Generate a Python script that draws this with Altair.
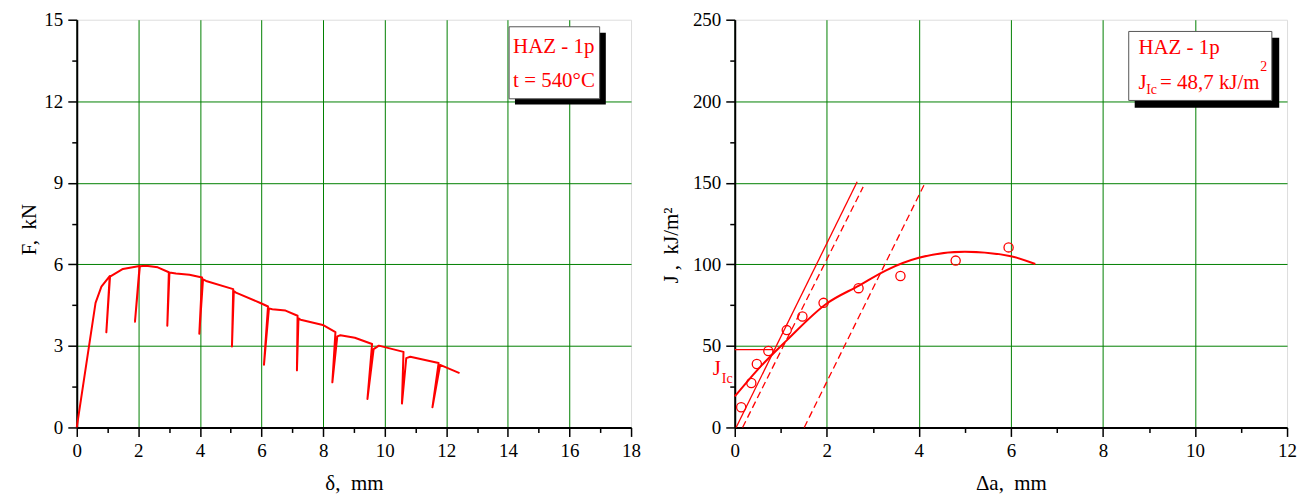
import altair as alt
import pandas as pd

FONT = "Liberation Serif"
RED = "#ff0000"
NB = "\u00a0"

# ---------------- Left panel: F vs delta record ----------------
delta_mm = [0, 0.61, 0.80, 1.07, 0.96, 1.08, 1.50, 2.04, 1.89, 2.05, 2.25, 2.63, 2.99, 2.94, 3.01,
            3.22, 3.66, 4.07, 3.98, 4.10, 4.20, 5.08, 5.04, 5.10, 5.17, 5.98, 6.21, 6.08, 6.24,
            6.35, 6.78, 7.17, 7.15, 7.20, 7.27, 7.99, 8.40, 8.30, 8.46, 8.56, 9.03, 9.59, 9.44,
            9.64, 9.81, 10.61, 10.56, 10.70, 10.83, 11.75, 11.55, 11.80, 12.43]
force_kN = [0, 4.58, 5.18, 5.57, 3.50, 5.55, 5.83, 5.94, 3.89, 5.93, 5.95, 5.89, 5.71, 3.74, 5.70,
            5.66, 5.62, 5.52, 3.45, 5.45, 5.39, 5.09, 2.98, 5.02, 4.96, 4.57, 4.45, 2.31, 4.38,
            4.35, 4.30, 4.11, 2.10, 4.02, 3.96, 3.77, 3.51, 1.66, 3.35, 3.39, 3.30, 3.07, 1.05,
            2.88, 3.01, 2.78, 0.88, 2.55, 2.60, 2.37, 0.74, 2.30, 2.00]

left_x_ticks = list(range(0, 19))
left_y_ticks = [0, 1.5, 3, 4.5, 6, 7.5, 9, 10.5, 12, 13.5, 15]

# annotation box (left)
lbox_x = [14.04, 16.98]
lbox_y = [12.09, 14.74]
lshadow_x = [14.23, 17.18]
lshadow_y = [11.88, 14.52]
ltext = ["HAZ - 1p", "t = 540°C"]
ltext_x = [14.17, 14.17]
ltext_y = [13.76, 12.52]

# ---------------- Right panel: J-R curve ----------------
da_points = [0.14, 0.36, 0.48, 0.73, 1.13, 1.47, 1.93, 2.69, 3.60, 4.80, 5.95]
j_points = [12.4, 27.3, 38.9, 46.9, 59.7, 68.0, 76.4, 85.4, 92.9, 102.3, 110.4]

fit_da = [0, 0.5, 1.13, 2.0, 2.7, 3.3, 4.0, 5.0, 6.0, 6.53]
fit_j = [19, 35.5, 53.4, 76, 87, 96.5, 104, 107.8, 105, 100.2]

blunt_da = [0.03, 2.66]
blunt_j = [0, 150.6]
excl1_da = [0.17, 2.79]
excl1_j = [0, 147.5]
excl2_da = [1.51, 4.11]
excl2_j = [0, 148.5]
jic_da = [0, 0.84]
jic_j = [47.7, 47.7]

right_x_ticks = list(range(0, 13))
right_y_ticks = list(range(0, 251, 25))

rbox_x = [8.56, 11.67]
rbox_y = [200.5, 242.8]
rshadow_x = [8.69, 11.83]
rshadow_y = [196.0, 239.0]
rtext = ["HAZ - 1p", "J", "Ic", "= 48,7 kJ/m", "2"]
rtext_x = [8.77, 8.77, 8.94, 9.24, 11.42]
rtext_y = [229.0, 207.6, 204.5, 207.6, 218.5]
rtext_size = [21, 21, 14, 21, 14]

jic_lbl = ["J", "Ic"]
jic_lbl_x = [-0.476, -0.28]
jic_lbl_y = [32.4, 27.5]
jic_lbl_size = [21, 14]


def make_axis(title, values, major, last, **kw):
    return alt.Axis(
        title=title, values=values,
        labelExpr=f"({major}) ? datum.label : ''",
        tickSize={"condition": {"test": major, "value": 9}, "value": 5},
        gridOpacity={"condition": {"test": f"({major}) && datum.value < {last}", "value": 1}, "value": 0},
        grid=True, gridColor="#008000", gridWidth=1,
        domainColor="black", domainWidth=2, tickColor="black", tickWidth=1.5,
        labelFont=FONT, labelFontSize=19, labelColor="black", labelPadding=5,
        labelFlush=False, labelOverlap=False,
        titleFont=FONT, titleFontSize=21, titleFontWeight="normal", titleColor="black",
        **kw)


lx_axis = make_axis(f"δ,{NB}{NB}mm", left_x_ticks, "datum.value % 2 == 0", 18, titlePadding=12)
ly_axis = make_axis(f"F,{NB}{NB}kN", left_y_ticks, "datum.value % 3 == 0", 15,
                    titleX=-47, titleY=210, titleBaseline="middle", titleAlign="center")
rx_axis = make_axis(f"Δa,{NB}{NB}mm", right_x_ticks, "datum.value % 2 == 0", 12, titlePadding=12)
ry_axis = make_axis(f"J{NB},{NB}{NB}kJ/m²", right_y_ticks, "datum.value % 50 == 0", 250,
                    titleX=-63, titleY=226, titleBaseline="middle", titleAlign="center")

lxs = alt.Scale(domain=[0, 18], nice=False, zero=False)
lys = alt.Scale(domain=[0, 15], nice=False, zero=False)
rxs = alt.Scale(domain=[0, 12], nice=False, zero=False)
rys = alt.Scale(domain=[0, 250], nice=False, zero=False)


def LX(f):
    return alt.X(f"{f}:Q", scale=lxs, axis=lx_axis)


def LY(f):
    return alt.Y(f"{f}:Q", scale=lys, axis=ly_axis)


def RX(f):
    return alt.X(f"{f}:Q", scale=rxs, axis=rx_axis)


def RY(f):
    return alt.Y(f"{f}:Q", scale=rys, axis=ry_axis)


# ---- left layers
ldf = pd.DataFrame({"d": delta_mm, "F": force_kN, "o": list(range(len(delta_mm)))})
lcurve = alt.Chart(ldf).mark_line(color=RED, strokeWidth=2, strokeJoin="round").encode(
    x=LX("d"), y=LY("F"), order="o:Q")

lshadow = alt.Chart(pd.DataFrame({"x": [lshadow_x[0]], "x2": [lshadow_x[1]],
                                  "y": [lshadow_y[0]], "y2": [lshadow_y[1]]})).mark_rect(
    color="black").encode(x=LX("x"), x2="x2:Q", y=LY("y"), y2="y2:Q")
lbox = alt.Chart(pd.DataFrame({"x": [lbox_x[0]], "x2": [lbox_x[1]],
                               "y": [lbox_y[0]], "y2": [lbox_y[1]]})).mark_rect(
    fill="white", stroke="#555555", strokeWidth=1).encode(x=LX("x"), x2="x2:Q", y=LY("y"), y2="y2:Q")
ltxt = alt.Chart(pd.DataFrame({"x": ltext_x, "y": ltext_y, "t": ltext})).mark_text(
    font=FONT, fontSize=21, color=RED, align="left", baseline="alphabetic").encode(
    x=LX("x"), y=LY("y"), text="t:N")

left = alt.layer(lcurve, lshadow, lbox, ltxt).properties(width=556, height=409)

# ---- right layers
pts = alt.Chart(pd.DataFrame({"a": da_points, "J": j_points})).mark_point(
    shape="circle", size=85, color=RED, strokeWidth=1.3, filled=False, opacity=1).encode(
    x=RX("a"), y=RY("J"))
fit = alt.Chart(pd.DataFrame({"a": fit_da, "J": fit_j})).mark_line(
    color=RED, strokeWidth=2, interpolate="monotone").encode(x=RX("a"), y=RY("J"))


def seg(xs, ys, dash=None):
    m = {"color": RED, "strokeWidth": 1.3}
    if dash:
        m["strokeDash"] = dash
    return alt.Chart(pd.DataFrame({"a": xs, "J": ys})).mark_line(**m).encode(x=RX("a"), y=RY("J"))


blunt = seg(blunt_da, blunt_j)
ex1 = seg(excl1_da, excl1_j, [7, 4])
ex2 = seg(excl2_da, excl2_j, [7, 4])
jicl = seg(jic_da, jic_j)

rshadow = alt.Chart(pd.DataFrame({"x": [rshadow_x[0]], "x2": [rshadow_x[1]],
                                  "y": [rshadow_y[0]], "y2": [rshadow_y[1]]})).mark_rect(
    color="black").encode(x=RX("x"), x2="x2:Q", y=RY("y"), y2="y2:Q")
rbox = alt.Chart(pd.DataFrame({"x": [rbox_x[0]], "x2": [rbox_x[1]],
                               "y": [rbox_y[0]], "y2": [rbox_y[1]]})).mark_rect(
    fill="white", stroke="#555555", strokeWidth=1).encode(x=RX("x"), x2="x2:Q", y=RY("y"), y2="y2:Q")
rtxt = alt.Chart(pd.DataFrame({"x": rtext_x, "y": rtext_y, "t": rtext, "s": rtext_size})).mark_text(
    font=FONT, color=RED, align="left", baseline="alphabetic").encode(
    x=RX("x"), y=RY("y"), text="t:N", size=alt.Size("s:Q", scale=None, legend=None))
jtxt = alt.Chart(pd.DataFrame({"x": jic_lbl_x, "y": jic_lbl_y, "t": jic_lbl, "s": jic_lbl_size})).mark_text(
    font=FONT, color=RED, align="left", baseline="alphabetic").encode(
    x=RX("x"), y=RY("y"), text="t:N", size=alt.Size("s:Q", scale=None, legend=None))

right = alt.layer(jicl, blunt, ex1, ex2, fit, pts, rshadow, rbox, rtxt, jtxt).properties(
    width=554, height=409)

chart = alt.hconcat(left, right, spacing=104, bounds="flush").properties(
    padding={"left": 18, "top": 9, "right": 5, "bottom": 5}
).configure_view(stroke="#777777", strokeWidth=1).configure(background="white")

chart.save("out.html", embed_options={"renderer": "svg", "actions": False})
